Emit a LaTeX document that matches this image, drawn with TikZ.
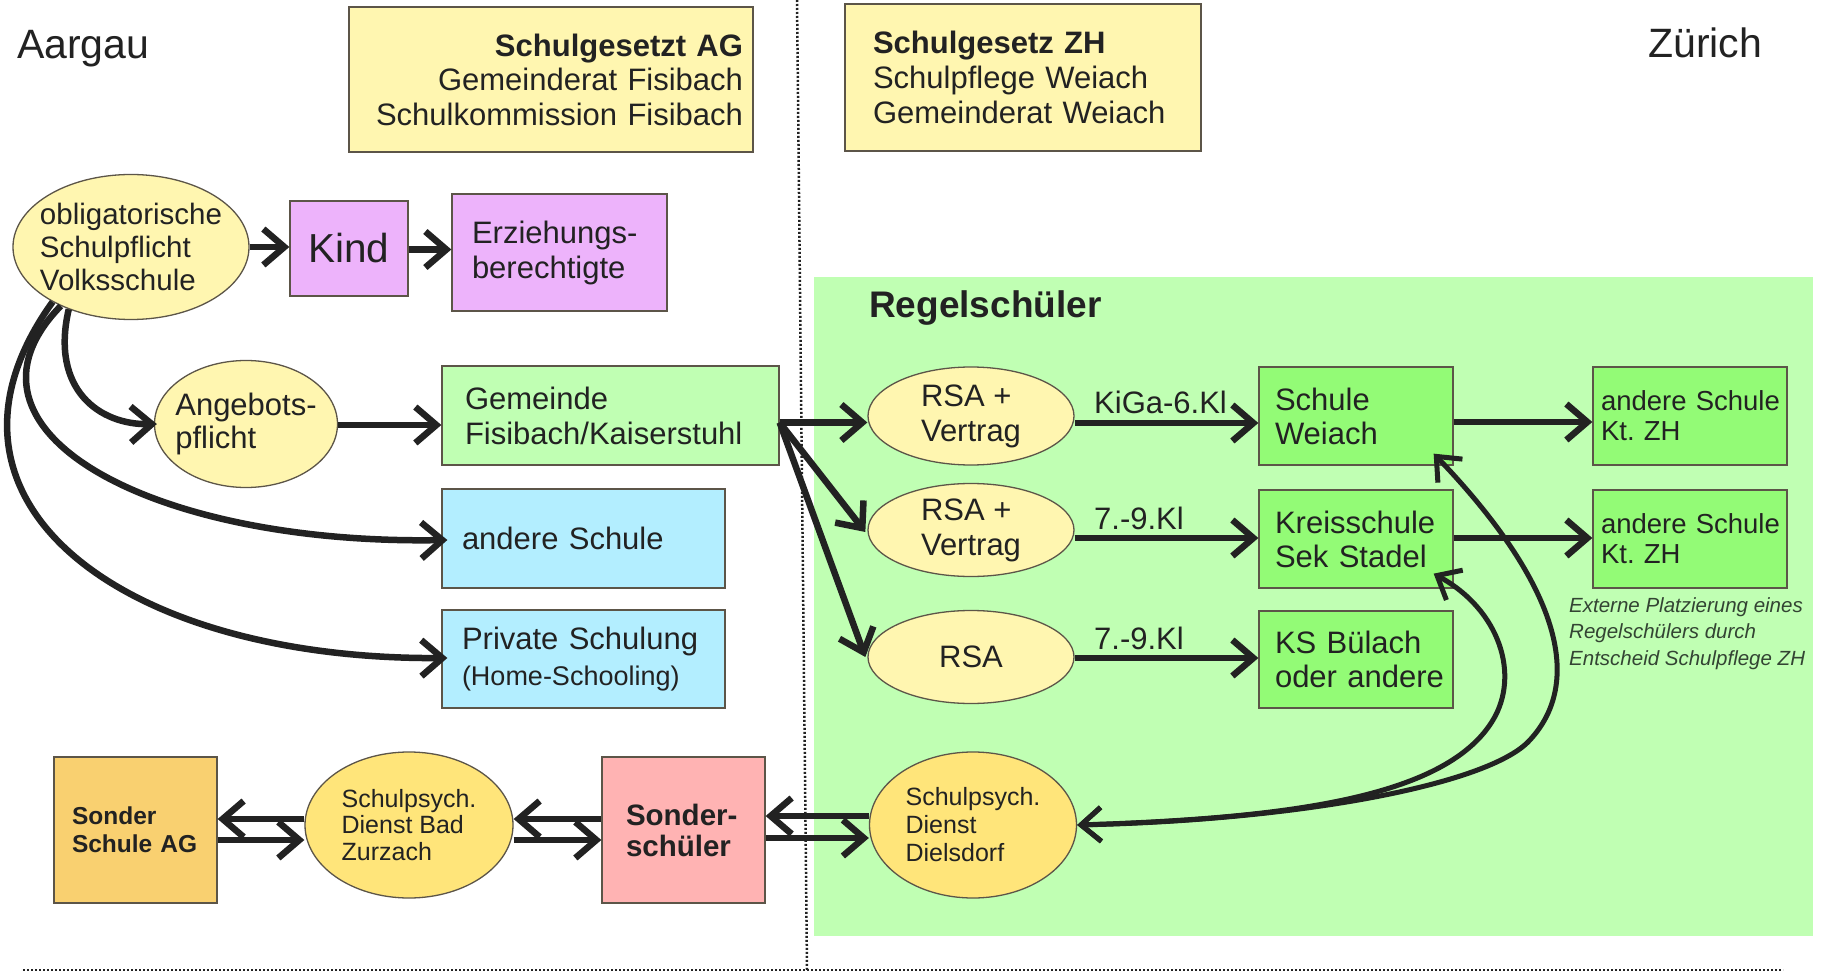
\documentclass[tikz,border=0pt]{standalone}
\usepackage{fontspec}
\setmainfont{Liberation Sans}
\usetikzlibrary{arrows.meta,shapes.geometric}
\definecolor{lyel}{HTML}{FFF6B0}
\definecolor{dyel}{HTML}{FFE57A}
\definecolor{purp}{HTML}{EDB3FB}
\definecolor{lgrn}{HTML}{C0FFB3}
\definecolor{dgrn}{HTML}{93FB76}
\definecolor{lblu}{HTML}{B3EEFF}
\definecolor{orng}{HTML}{F9D070}
\definecolor{pnk}{HTML}{FFB3B3}
\definecolor{bord}{HTML}{5C5548}
\definecolor{ink}{HTML}{222222}
\definecolor{notec}{HTML}{334433}
\newcommand{\myfs}[2]{\fontsize{#1}{#2}\selectfont}
\hyphenpenalty=10000
\exhyphenpenalty=10000
\frenchspacing
\tikzset{
  bx/.style={draw=bord, line width=1.3pt, rectangle, inner ysep=0pt, align=left, text=ink},
  el/.style={draw=bord, line width=1.3pt, ellipse, inner sep=0pt},
  arr/.style={draw=ink, line width=6.5pt, -{Straight Barb[length=21pt,width=36pt]}},
  carr/.style={draw=ink, line width=5pt, {Straight Barb[length=20pt,width=34pt]}-{Straight Barb[length=20pt,width=34pt]}},
  lab/.style={inner sep=0pt, text=ink, font=\myfs{31}{35}},
  dots/.style={draw=ink, line width=2.5pt, dash pattern=on 2pt off 2pt},
}
\begin{document}
\begin{tikzpicture}[x=1pt,y=-1pt]
\useasboundingbox[fill=white] (0,0) rectangle (1828,973);
% region background
\fill[lgrn] (814,277) rectangle (1813,936);
% dotted separators
\draw[dots] (797,0) -- (807,970);
\draw[dots] (23,970) -- (1783,970);

% titles
\node[lab, anchor=base west, font=\myfs{41}{45}] (aargau) at (17,59) {Aargau};
\node[lab, anchor=base west, font=\myfs{41}{45}] (zuerich) at (1648,58) {Zürich};
\node[lab, anchor=base west, font=\myfs{37}{40}\bfseries] (regel) at (869,318) {Regelschüler};

% top boxes
\node[bx, fill=lyel, minimum width=404pt, minimum height=145pt, text width=384pt, inner xsep=10pt, align=right, font=\myfs{31}{34.5}] (ag) at (551,79.5)
  {\textbf{Schulgesetzt~AG}\\Gemeinderat~Fisibach\\Schulkommission~Fisibach};
\node[bx, fill=lyel, minimum width=356pt, minimum height=147pt, text width=300pt, inner xsep=28pt, font=\myfs{31}{35}] (zh) at (1023,77.5)
  {\textbf{Schulgesetz~ZH}\\Schulpflege~Weiach\\Gemeinderat~Weiach};

% left part
\node[el, fill=lyel, minimum width=236pt, minimum height=145pt,
  label={[align=left, text=ink, font=\myfs{29.5}{33}]center:obligatorische\\Schulpflicht\\Volksschule}] (obl) at (131,247) {};
\node[bx, fill=purp, minimum width=118pt, minimum height=95pt, text width=98pt, inner xsep=10pt, align=center, font=\myfs{40.5}{44}] (kind) at (349,248.5) {Kind};
\node[bx, fill=purp, minimum width=215pt, minimum height=117pt, text width=175pt, inner xsep=20pt, font=\myfs{31}{35}] (erz) at (559.5,252.5) {Erziehungs-\\berechtigte};
\node[el, fill=lyel, minimum width=183pt, minimum height=127pt,
  label={[align=left, text=ink, font=\myfs{31}{33}]center:Angebots-\\pflicht}] (ang) at (246,424) {};
\node[bx, fill=lgrn, minimum width=337pt, minimum height=99pt, text width=291pt, inner xsep=23pt, font=\myfs{31}{35}] (gem) at (610.5,415.5) {Gemeinde\\Fisibach/Kaiserstuhl};
\node[bx, fill=lblu, minimum width=283pt, minimum height=99pt, text width=243pt, inner xsep=20pt, font=\myfs{31}{35}] (ands) at (583.5,538.5) {andere~Schule};
\node[bx, fill=lblu, minimum width=283pt, minimum height=98pt, text width=243pt, inner xsep=20pt, font=\myfs{31}{35}] (priv) at (583.5,659) {Private~Schulung\\[1pt]{\myfs{27}{30}(Home-Schooling)}};

% Zurich part
\node[el, fill=lyel, minimum width=206pt, minimum height=98pt,
  label={[align=left, text=ink, font=\myfs{31}{35}]center:RSA~+\\Vertrag}] (r1) at (971,416) {};
\node[el, fill=lyel, minimum width=206pt, minimum height=93pt,
  label={[align=left, text=ink, font=\myfs{31}{35}]center:RSA~+\\Vertrag}] (r2) at (971,530) {};
\node[el, fill=lyel, minimum width=206pt, minimum height=93pt,
  label={[align=left, text=ink, font=\myfs{31}{35}]center:RSA}] (r3) at (971,657) {};
\node[bx, fill=dgrn, minimum width=194pt, minimum height=98pt, text width=162pt, inner xsep=16pt, font=\myfs{31}{34}] (sw) at (1356,416) {Schule\\Weiach};
\node[bx, fill=dgrn, minimum width=194pt, minimum height=98pt, text width=162pt, inner xsep=16pt, font=\myfs{31}{34}] (krs) at (1356,539) {Kreisschule\\Sek~Stadel};
\node[bx, fill=dgrn, minimum width=194pt, minimum height=97pt, text width=162pt, inner xsep=16pt, font=\myfs{31}{34}] (ksb) at (1356,659.5) {KS~Bülach\\oder~andere};
\node[bx, fill=dgrn, minimum width=194pt, minimum height=98pt, text width=178pt, inner xsep=8pt, font=\myfs{27.5}{30}] (az1) at (1690,416) {andere~Schule\\Kt.~ZH};
\node[bx, fill=dgrn, minimum width=194pt, minimum height=98pt, text width=178pt, inner xsep=8pt, font=\myfs{27.5}{30}] (az2) at (1690,539) {andere~Schule\\Kt.~ZH};
\node[inner sep=0pt, anchor=west, align=left, text=notec, font=\myfs{20.5}{26.5}\itshape] (note) at (1569,633.5)
  {Externe Platzierung eines\\Regelschülers durch\\Entscheid Schulpflege ZH};

% bottom row
\node[bx, fill=orng, minimum width=163pt, minimum height=146pt, text width=127pt, inner xsep=18pt, font=\myfs{24.5}{28}\bfseries] (sag) at (135.5,830) {Sonder\\Schule~AG};
\node[el, fill=dyel, minimum width=208pt, minimum height=146pt,
  label={[align=left, text=ink, font=\myfs{25}{26.5}]center:Schulpsych.\\Dienst~Bad\\Zurzach}] (zur) at (409,825) {};
\node[bx, fill=pnk, minimum width=163pt, minimum height=146pt, text width=115pt, inner xsep=24pt, font=\myfs{29.5}{31}\bfseries] (ss) at (683.5,830) {Sonder-\\schüler};
\node[el, fill=dyel, minimum width=207pt, minimum height=146pt,
  label={[align=left, text=ink, font=\myfs{25}{28}]center:Schulpsych.\\Dienst\\Dielsdorf}] (diel) at (973,825) {};

% edge labels
\node[lab, anchor=base west] (l1) at (1094,413) {KiGa-6.Kl};
\node[lab, anchor=base west] (l2) at (1094,529) {7.-9.Kl};
\node[lab, anchor=base west] (l3) at (1094,649) {7.-9.Kl};

% arrows top
\draw[arr] (obl.east) -- (obl.east -| kind.west);
\draw[arr] ([yshift=-1pt]kind.east) -- ([yshift=-1pt]kind.east -| erz.west);
\draw[arr] (obl.-135) .. controls (50,390) and (100,425) .. ([xshift=3pt]ang.west);
\draw[arr] (obl.-140) .. controls (-60,430) and (150,545) .. ([xshift=6pt,yshift=-1.5pt]ands.west);
\draw[arr] (obl.-145) .. controls (-90,500) and (120,660) .. ([xshift=6pt,yshift=1pt]priv.west);
\draw[arr] ([yshift=-1pt]ang.east) -- ([yshift=-1pt]ang.east -| gem.west);
\draw[arr] ([yshift=-7pt]gem.east) -- ([yshift=-7pt]gem.east -| r1.west);
\draw[arr] ([yshift=-7pt]gem.east) -- ([xshift=-2pt,yshift=-2pt]r2.west);
\draw[arr] ([yshift=-7pt]gem.east) -- ([xshift=-2pt]r3.west);
\draw[arr] ([yshift=-7pt]r1.east) -- ([yshift=-7pt]r1.east -| sw.west);
\draw[arr] ([yshift=-8pt]r2.east) -- ([yshift=-8pt]r2.east -| krs.west);
\draw[arr] ([yshift=-1pt]r3.east) -- ([yshift=-1pt]r3.east -| ksb.west);
\draw[arr] ([yshift=-6pt]sw.east) -- ([yshift=-6pt]sw.east -| az1.west);
\draw[arr] ([yshift=1pt]krs.east) -- ([yshift=1pt]krs.east -| az2.west);

% arrows bottom
\draw[arr] ([yshift=6pt]zur.west) -- ([yshift=6pt]zur.west -| sag.east);
\draw[arr] ([yshift=-10pt]sag.east) -- ([yshift=-10pt]sag.east -| zur.west);
\draw[arr] ([yshift=11pt]ss.west) -- ([yshift=11pt]ss.west -| zur.east);
\draw[arr] ([yshift=-15pt]zur.east) -- ([yshift=-15pt]zur.east -| ss.west);
\draw[arr] ([yshift=9pt]diel.west) -- ([yshift=9pt]diel.west -| ss.east);
\draw[arr] ([yshift=-8pt]ss.east) -- ([yshift=-8pt]ss.east -| diel.west);

% curved connectors Dielsdorf
\draw[carr] (diel.east) .. controls (1300,820) and (1485,785) .. (1528,742)
  .. controls (1590,678) and (1550,575) .. ([xshift=-20pt,yshift=12pt]sw.south east);
\draw[carr] (diel.east) .. controls (1300,818) and (1448,795) .. (1493,720)
  .. controls (1520,675) and (1500,610) .. ([xshift=-20pt,yshift=15pt]krs.south east);
\end{tikzpicture}
\end{document}
